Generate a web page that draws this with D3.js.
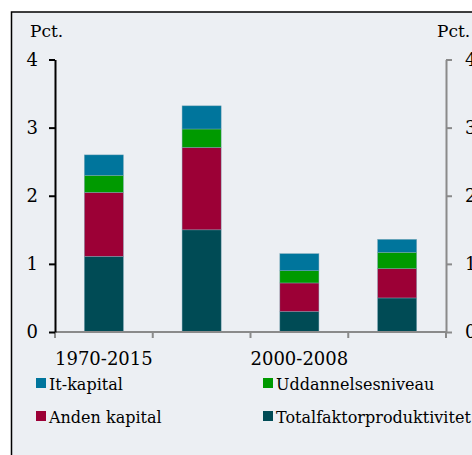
<!DOCTYPE html>
<html><head><meta charset="utf-8">
<script src="https://cdn.jsdelivr.net/npm/d3@7"></script>
<style>
html,body{margin:0;padding:0;background:#fff;}
svg{display:block;}
text{font-family:"DejaVu Serif",serif;fill:#000;}
</style></head>
<body>
<svg id="chart" width="472" height="455"></svg>
<script>
const categories = ["1970-2015", "1970-2000", "2000-2008", "2008-2015"];
const shownLabels = ["1970-2015", "", "2000-2008", ""];
const seriesNames = ["Totalfaktorproduktivitet", "Anden kapital", "Uddannelsesniveau", "It-kapital"];
const tfp = [1.11, 1.50, 0.30, 0.50];
const andenKapital = [0.94, 1.21, 0.42, 0.43];
const uddannelse = [0.25, 0.27, 0.18, 0.24];
const itKapital = [0.30, 0.34, 0.25, 0.19];
const yTicks = [0, 1, 2, 3, 4];
const colors = {
  "It-kapital": "#00759c",
  "Uddannelsesniveau": "#009a00",
  "Anden kapital": "#9c0036",
  "Totalfaktorproduktivitet": "#004b55"
};
const legendOrder = [["It-kapital", "Uddannelsesniveau"], ["Anden kapital", "Totalfaktorproduktivitet"]];

const rows = categories.map((c, i) => ({
  cat: c,
  "Totalfaktorproduktivitet": tfp[i],
  "Anden kapital": andenKapital[i],
  "Uddannelsesniveau": uddannelse[i],
  "It-kapital": itKapital[i]
}));

const svg = d3.select("#chart");
svg.append("rect").attr("x", 11.5).attr("y", 12).attr("width", 470).attr("height", 450)
  .attr("fill", "#eceff3").attr("stroke", "#000").attr("stroke-width", 1.5);

const pLeft = 55, pRight = 446, pTop = 59.5, pBottom = 332;
const x = d3.scaleBand().domain(categories).range([pLeft, pRight]).padding(0);
const y = d3.scaleLinear().domain([0, 4]).range([pBottom, pTop]);
const barW = x.bandwidth() * 0.4;

const stack = d3.stack().keys(seriesNames)(rows);
svg.append("g").selectAll("g.s").data(stack).join("g").attr("class", "s")
  .attr("fill", d => colors[d.key])
  .selectAll("rect").data(d => d).join("rect")
  .attr("x", d => x(d.data.cat) + (x.bandwidth() - barW) / 2)
  .attr("width", barW)
  .attr("y", d => y(d[1]))
  .attr("height", d => y(d[0]) - y(d[1]))
  .attr("stroke", "#7fa8b8").attr("stroke-width", 0.6).attr("stroke-opacity", 0.7);

// x axis
const xAxis = svg.append("g").attr("transform", `translate(0,${pBottom})`);
xAxis.append("line").attr("x1", pLeft).attr("x2", pRight).attr("stroke", "#8a8a8a").attr("stroke-width", 2);
const bounds = categories.map(c => x(c)).concat([pRight]);
xAxis.selectAll("line.t").data(bounds).join("line").attr("class", "t")
  .attr("x1", d => d).attr("x2", d => d).attr("y1", 0).attr("y2", 6)
  .attr("stroke", "#8a8a8a").attr("stroke-width", 2);
xAxis.selectAll("text").data(categories).join("text")
  .attr("x", d => x(d) + x.bandwidth() / 2).attr("y", 33)
  .attr("text-anchor", "middle").style("font-size", "18px")
  .text((d, i) => shownLabels[i]);

// left axis
const yl = svg.append("g").attr("transform", `translate(${pLeft},0)`)
  .call(d3.axisLeft(y).tickValues(yTicks).tickSize(6).tickSizeOuter(0).tickFormat(d3.format("d")));
yl.select(".domain").attr("stroke", "#000").attr("stroke-width", 2);
yl.selectAll(".tick line").attr("stroke", "#000").attr("stroke-width", 2);
yl.selectAll(".tick text").attr("x", -17).style("font-size", "18px").style("font-family", "DejaVu Serif").attr("fill", "#000");

// right axis
const yr = svg.append("g").attr("transform", `translate(${pRight},0)`)
  .call(d3.axisRight(y).tickValues(yTicks).tickSize(6).tickSizeOuter(0).tickFormat(d3.format("d")));
yr.select(".domain").attr("stroke", "#8a8a8a").attr("stroke-width", 2);
yr.selectAll(".tick line").attr("stroke", "#8a8a8a").attr("stroke-width", 2);
yr.selectAll(".tick text").attr("x", 19).style("font-size", "18px").style("font-family", "DejaVu Serif").attr("fill", "#000");

svg.append("text").attr("x", 30).attr("y", 37).style("font-size", "17px").text("Pct.");
svg.append("text").attr("x", 437).attr("y", 37).style("font-size", "17px").text("Pct.");

// legend
const legX = [36, 263], legY = [383, 416];
legendOrder.forEach((row, ri) => row.forEach((name, ci) => {
  svg.append("rect").attr("x", legX[ci]).attr("y", legY[ri] - 5).attr("width", 10).attr("height", 10)
    .attr("fill", colors[name]);
  svg.append("text").attr("x", legX[ci] + 13).attr("y", legY[ri] + 7).style("font-size", "16px").text(name);
}));
</script>
</body></html>
